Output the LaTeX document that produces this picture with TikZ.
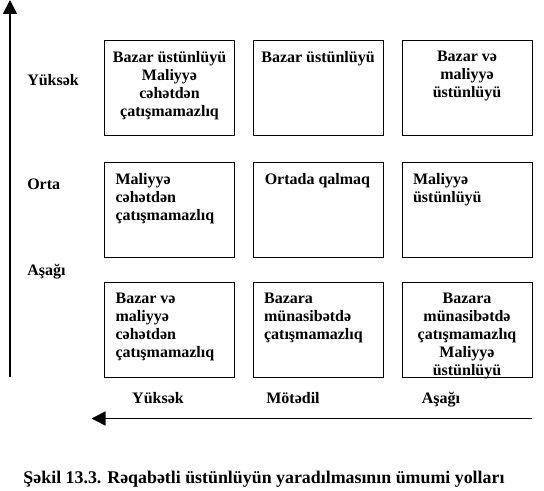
\documentclass[tikz,border=0pt]{standalone}
\usepackage{fontspec}
\setmainfont{Liberation Serif}
\usetikzlibrary{arrows.meta}
\begin{document}
\begin{tikzpicture}[x=0.75pt,y=-0.75pt,
  cell/.style={draw,line width=0.8pt,minimum width=97.5pt,minimum height=71.5pt,inner sep=0,anchor=north west},
  txt/.style={inner sep=0,font=\bfseries\fontsize{12}{13.4}\selectfont},
  ctext/.style={txt,anchor=north,align=center},
  ltext/.style={txt,anchor=north west,align=left},
  axis/.style={line width=1.2pt,-{Triangle[length=10.5pt,width=10.5pt]}},
  lab/.style={txt,anchor=base}]
\useasboundingbox (0,0) rectangle (544,491);
% boxes
\node[cell] (b11) at (104,40) {};
\node[cell] (b12) at (252.5,40) {};
\node[cell] (b13) at (401.5,40) {};
\node[cell] (b21) at (104,162) {};
\node[cell] (b22) at (252.5,162) {};
\node[cell] (b23) at (401.5,162) {};
\node[cell] (b31) at (104,282) {};
\node[cell] (b32) at (252.5,282) {};
\node[cell] (b33) at (401.5,282) {};
% texts
\node[ctext] (t11) at ([yshift=-8.3pt]b11.north) {Bazar üstünlüyü\\Maliyyə\\cəhətdən\\çatışmamazlıq};
\node[ctext] (t12) at ([yshift=-8.3pt]b12.north) {Bazar üstünlüyü};
\node[ctext] (t13) at ([yshift=-8.3pt]b13.north) {Bazar və\\maliyyə\\üstünlüyü};
\node[ltext] (t21) at ([xshift=8.5pt,yshift=-8.3pt]b21.north west) {Maliyyə\\cəhətdən\\çatışmamazlıq};
\node[ltext] (t22) at ([xshift=9pt,yshift=-8.3pt]b22.north west) {Ortada qalmaq};
\node[ltext] (t23) at ([xshift=8.5pt,yshift=-8.3pt]b23.north west) {Maliyyə\\üstünlüyü};
\node[ltext] (t31) at ([xshift=8.5pt,yshift=-8.3pt]b31.north west) {Bazar və\\maliyyə\\cəhətdən\\çatışmamazlıq};
\node[ltext] (t32) at ([xshift=8.5pt,yshift=-8.3pt]b32.north west) {Bazara\\münasibətdə\\çatışmamazlıq};
\node[ctext] (t33) at ([yshift=-8.3pt]b33.north) {Bazara\\münasibətdə\\çatışmamazlıq\\Maliyyə\\üstünlüyü};
% axes
\coordinate (v0) at (10,377);
\coordinate (v1) at (10,0);
\draw[axis] (v0) -- (v1);
\coordinate (h0) at (531.5,418.5);
\coordinate (h1) at (91.5,418.5);
\draw[axis] (h0) -- (h1);
% axis labels
\node[lab,anchor=base west] (ly1) at (27,86) {Yüksək};
\node[lab,anchor=base west] (ly2) at (27,190) {Orta};
\node[lab,anchor=base west] (ly3) at (27,276) {Aşağı};
\node[lab] (lx1) at (158,404) {Yüksək};
\node[lab] (lx2) at (293,404) {Mötədil};
\node[lab] (lx3) at (441,404) {Aşağı};
% caption
\node[inner sep=0,anchor=base,font=\bfseries\fontsize{13.4}{16}\selectfont] (cap) at (264,484) {Şəkil 13.3. Rəqabətli üstünlüyün yaradılmasının ümumi yolları};
\end{tikzpicture}
\end{document}
